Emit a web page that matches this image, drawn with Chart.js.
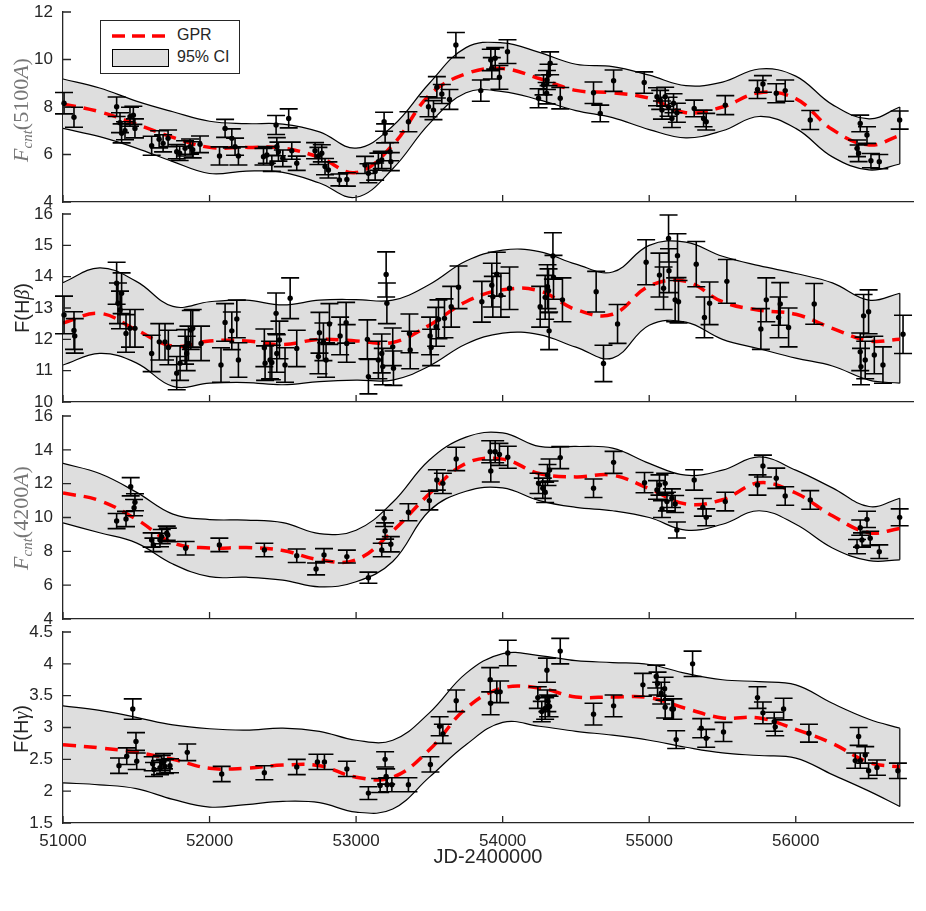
<!DOCTYPE html>
<html>
<head>
<meta charset="utf-8">
<title>GPR light curves</title>
<script src="https://cdn.jsdelivr.net/npm/chart.js@4.4.1/dist/chart.umd.min.js"></script>
<style>
  body { margin: 0; background: #fff; }
  #fig { position: relative; width: 926px; height: 911px; font-family: "Liberation Sans", Arial, sans-serif; color: #262626; }
  .panel { position: absolute; left: 0; width: 926px; }
  .ylab { position: absolute; white-space: nowrap; transform: translate(-50%, -50%) rotate(-90deg); }
  .tex { font-family: "Liberation Serif", "DejaVu Serif", serif; font-size: 22px; color: #777; }
  .tex i { font-style: italic; }
  .tex sub { font-size: 15px; font-style: italic; vertical-align: -4px; }
  .plain { font-size: 20px; color: #262626; }
  .plain i { font-family: "Liberation Serif", serif; font-style: italic; }
  #legend { position: absolute; left: 100px; top: 20px; width: 138px; height: 52px; border: 1px solid #262626; background: #fff; font-size: 16px; }
  #legend svg { position: absolute; left: 11px; top: 10px; }
  #legend .swatch { position: absolute; left: 11px; top: 28px; width: 55px; height: 16px; background: #dedede; border: 1px solid #000; }
  #legend .t1 { position: absolute; left: 76px; top: 5px; }
  #legend .t2 { position: absolute; left: 76px; top: 27px; }
</style>
</head>
<body>
<div id="fig">
  <div class="panel" style="top:1px;height:213px"><canvas id="p1"></canvas></div>
  <div class="panel" style="top:203px;height:211px"><canvas id="p2"></canvas></div>
  <div class="panel" style="top:405px;height:226px"><canvas id="p3"></canvas></div>
  <div class="panel" style="top:621px;height:262px"><canvas id="p4"></canvas></div>

  <div class="ylab tex" style="left:22px;top:110px"><i>F</i><sub>cnt</sub>(5100<i>A</i>)</div>
  <div class="ylab plain" style="left:22px;top:308px">F(H<i>β</i>)</div>
  <div class="ylab tex" style="left:22px;top:518px"><i>F</i><sub>cnt</sub>(4200<i>A</i>)</div>
  <div class="ylab plain" style="left:21px;top:729px">F(H<i>γ</i>)</div>

  <div id="legend">
    <svg width="58" height="10"><line x1="0" y1="5" x2="58" y2="5" stroke="#ff0000" stroke-width="3.5" stroke-dasharray="13 7"/></svg>
    <span class="t1">GPR</span>
    <div class="swatch"></div>
    <span class="t2">95% CI</span>
  </div>
</div>

<script>
// -------- Data --------
const xTicks = [51000, 52000, 53000, 54000, 55000, 56000];

// GPR model grid (JD-2400000)
const bandJd = [51000, 51250, 51500, 51750, 52000, 52250, 52500, 52750, 53000, 53250, 53500, 53750,
                54000, 54250, 54500, 54750, 55000, 55250, 55500, 55750, 56000, 56250, 56500, 56710];

// F_cnt(5100A)
const p1Gpr   = [8.13, 7.8, 7.28, 6.72, 6.3, 6.3, 6.27, 5.88, 5.24, 6.4, 8.5, 9.4, 9.62, 9.2, 8.7, 8.6, 8.37, 7.76, 8.0, 8.6, 8.35, 7.05, 6.4, 6.8];
const p1Upper = [9.18, 8.8, 8.25, 7.8, 7.4, 7.3, 7.28, 6.95, 6.27, 7.2, 9.0, 10.5, 10.7, 10.3, 9.8, 9.7, 9.34, 8.9, 9.05, 9.6, 9.3, 8.1, 7.5, 8.0];
const p1Lower = [7.1, 6.75, 6.27, 5.7, 5.2, 5.3, 5.25, 4.8, 4.2, 5.4, 7.3, 8.6, 8.65, 8.3, 7.85, 7.55, 7.05, 6.7, 7.0, 7.6, 7.1, 5.9, 5.35, 5.6];
const p1Jd   = [51007, 51075, 51366, 51389, 51400, 51423, 51457, 51480, 51491, 51605, 51656, 51683, 51717, 51776, 51796, 51833, 51867, 51885, 51935,
                52068, 52106, 52152, 52174, 52197, 52368, 52391, 52425, 52454, 52459, 52470, 52500, 52540, 52561, 52595, 52720, 52743, 52766, 52788, 52811, 52886, 52937,
                53061, 53084, 53130, 53152, 53175, 53191, 53198, 53232, 53237, 53357, 53494, 53528, 53551, 53585, 53637, 53681, 53851, 53919, 53926, 53949, 53978,
                54033, 54245, 54279, 54302, 54313, 54324, 54300, 54393, 54620, 54666, 54757, 54966,
                55053, 55075, 55087, 55109, 55132, 55155, 55166, 55189, 55307, 55371, 55389, 55519, 55739, 55776, 55867, 55928,
                56099, 56440, 56486, 56418, 56429, 56513, 56570, 56709];
const p1Flux = [8.16, 7.57, 8.01, 7.34, 6.89, 7.0, 7.59, 7.65, 7.1, 6.37, 6.64, 6.47, 6.68, 6.12, 6.05, 6.26, 6.33, 6.2, 6.43,
                5.94, 7.1, 6.68, 6.33, 5.94, 5.91, 5.98, 5.63, 7.24, 6.33, 6.12, 5.84, 7.52, 6.16, 5.63, 6.16, 5.94, 6.05, 5.49, 5.35, 4.93, 4.95,
                5.56, 5.21, 5.28, 5.7, 5.77, 7.38, 6.89, 6.12, 5.7, 7.38, 8.01, 7.87, 8.83, 8.55, 8.32, 10.61, 8.69, 9.98, 9.63, 10.05, 9.25,
                10.33, 8.37, 8.93, 9.14, 9.35, 9.84, 8.58, 8.37, 8.6, 7.73, 9.11, 9.03,
                8.43, 8.3, 7.87, 8.43, 8.01, 7.52, 8.16, 7.76, 7.94, 7.52, 7.38, 8.08, 8.74, 8.97, 8.58, 8.69,
                7.45, 7.31, 6.82, 6.26, 6.05, 5.74, 5.7, 7.45];
const p1Err  = [0.45, 0.42, 0.41, 0.42, 0.4, 0.38, 0.4, 0.38, 0.4, 0.4, 0.36, 0.36, 0.35, 0.3, 0.3, 0.32, 0.32, 0.34, 0.35,
                0.38, 0.38, 0.4, 0.36, 0.38, 0.35, 0.35, 0.34, 0.4, 0.38, 0.4, 0.35, 0.4, 0.36, 0.3, 0.34, 0.36, 0.36, 0.34, 0.34, 0.25, 0.28,
                0.36, 0.4, 0.36, 0.36, 0.36, 0.4, 0.4, 0.38, 0.38, 0.42, 0.42, 0.4, 0.45, 0.4, 0.42, 0.53, 0.45, 0.45, 0.45, 0.45, 0.5,
                0.5, 0.4, 0.42, 0.4, 0.45, 0.48, 0.45, 0.45, 0.45, 0.35, 0.45, 0.45,
                0.38, 0.4, 0.38, 0.4, 0.4, 0.38, 0.4, 0.4, 0.35, 0.35, 0.35, 0.4, 0.38, 0.35, 0.4, 0.45,
                0.4, 0.35, 0.35, 0.35, 0.35, 0.3, 0.3, 0.38];

// F(Hbeta)
const p2Gpr   = [12.52, 12.83, 12.3, 11.78, 11.95, 11.95, 11.83, 12.0, 11.95, 11.9, 12.45, 13.2, 13.58, 13.55, 12.95, 12.8, 13.7, 13.85, 13.2, 12.93, 12.8, 12.35, 11.95, 12.0];
const p2Upper = [13.81, 14.28, 13.85, 13.05, 13.2, 13.25, 13.1, 13.25, 13.27, 13.25, 13.75, 14.5, 14.85, 14.8, 14.4, 14.15, 15.0, 15.1, 14.65, 14.35, 14.1, 13.8, 13.25, 13.47];
const p2Lower = [11.18, 11.55, 11.25, 10.5, 10.6, 10.62, 10.55, 10.65, 10.7, 10.7, 11.15, 11.85, 12.2, 12.15, 11.75, 11.4, 12.45, 12.55, 12.0, 11.7, 11.4, 11.15, 10.7, 10.6];
const p2Jd   = [51007, 51075, 51080, 51366, 51375, 51389, 51400, 51430, 51457, 51491, 51605, 51657, 51696, 51719, 51776, 51799, 51833, 51844, 51856, 51872, 51885, 51942,
                52078, 52106, 52152, 52186, 52197, 52374, 52379, 52413, 52425, 52454, 52459, 52477, 52515, 52550, 52595, 52743, 52750, 52777, 52795, 52818, 52891, 52932, 52936,
                53077, 53084, 53152, 53175, 53182, 53205, 53210, 53250, 53255, 53364, 53369, 53505, 53512, 53546, 53562, 53603, 53649, 53699, 53858, 53926, 53933, 53960, 53988,
                54047, 54256, 54290, 54306, 54313, 54317, 54343, 54347, 54408, 54638, 54688, 54784, 54979,
                55070, 55098, 55132, 55135, 55177, 55193, 55200, 55321, 55377, 55412, 55530, 55762, 55799, 55883, 55894, 55951,
                56126, 56463, 56497, 56440, 56445, 56474, 56536, 56595, 56732];
const p2Flux = [12.78, 12.28, 12.11, 13.79, 13.15, 12.94, 13.47, 12.19, 12.35, 12.35, 11.55, 11.92, 11.92, 11.74, 10.92, 11.24, 11.76, 11.55, 11.87, 12.3, 12.35, 11.87,
                11.18, 12.54, 12.27, 12.65, 11.34, 11.73, 11.24, 11.34, 11.26, 12.83, 11.55, 11.98, 11.18, 13.31, 11.71, 11.45, 12.21, 11.92, 11.34, 12.49, 12.11, 12.53, 11.87,
                12.0, 10.81, 11.34, 11.55, 11.13, 14.07, 13.15, 11.76, 11.08, 12.19, 11.66, 12.11, 11.74, 12.4, 12.64, 12.67, 13.04, 13.66, 13.2, 13.73, 13.36, 14.08, 13.41,
                13.63, 13.04, 13.34, 13.68, 13.55, 12.27, 14.66, 13.98, 13.26, 13.52, 11.23, 12.49, 14.46,
                14.05, 13.63, 15.22, 14.19, 13.26, 14.67, 13.2, 14.4, 12.7, 13.15, 13.85, 12.33, 13.26, 12.7, 13.13, 12.38,
                13.13, 12.75, 12.88, 11.6, 11.13, 11.34, 11.5, 11.18, 12.16];
const p2Err  = [0.6, 0.6, 0.55, 0.67, 0.65, 0.6, 0.65, 0.6, 0.6, 0.6, 0.58, 0.58, 0.58, 0.55, 0.53, 0.55, 0.55, 0.55, 0.55, 0.62, 0.6, 0.55,
                0.55, 0.6, 0.6, 0.6, 0.55, 0.6, 0.55, 0.6, 0.55, 0.65, 0.6, 0.6, 0.55, 0.65, 0.58, 0.55, 0.65, 0.6, 0.55, 0.65, 0.6, 0.65, 0.6,
                0.62, 0.55, 0.6, 0.62, 0.58, 0.72, 0.65, 0.6, 0.55, 0.62, 0.6, 0.6, 0.58, 0.62, 0.62, 0.62, 0.65, 0.68, 0.65, 0.7, 0.65, 0.7, 0.7,
                0.68, 0.65, 0.7, 0.7, 0.7, 0.6, 0.74, 0.7, 0.7, 0.65, 0.58, 0.62, 0.72,
                0.7, 0.68, 0.75, 0.7, 0.7, 0.7, 0.68, 0.72, 0.65, 0.68, 0.7, 0.65, 0.7, 0.65, 0.68, 0.62,
                0.65, 0.68, 0.7, 0.6, 0.58, 0.6, 0.6, 0.58, 0.61];

// F_cnt(4200A)
const p3Gpr   = [11.45, 11.0, 9.9, 8.5, 8.2, 8.22, 8.05, 7.5, 7.5, 9.2, 11.4, 13.2, 13.45, 12.6, 12.4, 12.5, 11.7, 10.8, 11.05, 12.05, 11.45, 10.1, 9.1, 9.35];
const p3Upper = [13.2, 12.6, 11.5, 10.2, 9.88, 9.85, 9.7, 9.05, 9.25, 10.9, 13.4, 14.75, 15.0, 14.2, 14.2, 14.1, 13.2, 12.5, 12.8, 13.58, 12.8, 11.75, 10.65, 11.14];
const p3Lower = [9.68, 9.1, 8.5, 7.25, 6.5, 6.47, 6.3, 5.9, 6.2, 7.4, 10.4, 11.55, 11.75, 11.0, 10.6, 10.4, 10.0, 9.25, 9.6, 10.4, 9.6, 8.2, 7.45, 7.5];
const p3Jd   = [51366, 51430, 51462, 51485, 51491, 51605, 51617, 51662, 51674, 51708, 51715, 51837, 52067, 52374, 52595, 52727, 52781, 52937,
                53084, 53175, 53191, 53198, 53237, 53357, 53500, 53551, 53592, 53683, 53915, 53919, 53949, 53978,
                54035, 54245, 54274, 54290, 54306, 54320, 54393, 54620, 54757, 54968,
                55053, 55070, 55087, 55109, 55121, 55155, 55177, 55189, 55307, 55366, 55389, 55519, 55739, 55776, 55867, 55928,
                56099, 56418, 56440, 56452, 56486, 56508, 56570, 56709];
const p3Flux = [9.79, 9.91, 11.82, 10.58, 10.9, 8.67, 8.38, 8.67, 8.87, 9.07, 8.97, 8.18, 8.38, 8.08, 7.74, 6.96, 7.78, 7.69,
                6.44, 8.08, 9.95, 9.2, 8.42, 10.31, 11.0, 12.22, 12.02, 13.46, 13.89, 12.75, 13.89, 13.73,
                13.56, 12.02, 11.73, 11.49, 12.51, 12.81, 13.54, 11.73, 13.26, 12.06,
                11.63, 11.92, 10.5, 12.02, 10.94, 11.14, 10.8, 9.26, 12.22, 10.6, 10.01, 10.94, 11.92, 13.04, 12.32, 11.27,
                11.04, 8.28, 9.4, 8.67, 9.89, 8.77, 7.98, 10.01];
const p3Err  = [0.45, 0.45, 0.54, 0.48, 0.5, 0.42, 0.4, 0.4, 0.42, 0.42, 0.4, 0.4, 0.4, 0.4, 0.4, 0.35, 0.38, 0.38,
                0.33, 0.4, 0.48, 0.48, 0.45, 0.5, 0.55, 0.6, 0.6, 0.69, 0.65, 0.65, 0.65, 0.65,
                0.65, 0.6, 0.6, 0.6, 0.62, 0.65, 0.65, 0.55, 0.65, 0.6,
                0.55, 0.6, 0.5, 0.6, 0.55, 0.55, 0.5, 0.47, 0.6, 0.52, 0.5, 0.55, 0.6, 0.65, 0.6, 0.55,
                0.55, 0.42, 0.45, 0.42, 0.48, 0.42, 0.4, 0.5];

// F(Hgamma)
const p4Gpr   = [2.73, 2.68, 2.61, 2.5, 2.36, 2.36, 2.41, 2.4, 2.22, 2.22, 2.65, 3.3, 3.62, 3.62, 3.48, 3.48, 3.47, 3.3, 3.15, 3.15, 2.97, 2.75, 2.45, 2.38];
const p4Upper = [3.34, 3.27, 3.16, 3.04, 2.98, 2.96, 2.99, 2.94, 2.8, 2.8, 3.23, 3.85, 4.16, 4.13, 4.05, 4.02, 3.99, 3.85, 3.75, 3.72, 3.67, 3.38, 3.13, 2.99];
const p4Lower = [2.13, 2.1, 2.04, 1.87, 1.75, 1.79, 1.84, 1.82, 1.67, 1.72, 2.22, 2.73, 3.08, 3.02, 2.94, 2.88, 2.8, 2.69, 2.6, 2.56, 2.52, 2.26, 2.0, 1.76];
const p4Jd   = [51382, 51435, 51476, 51498, 51503, 51612, 51621, 51662, 51674, 51689, 51696, 51730, 51848, 52083, 52374, 52595, 52736, 52784, 52937,
                53084, 53164, 53198, 53205, 53212, 53244, 53357, 53507, 53570, 53592, 53683, 53915, 53918, 53960, 53983,
                54035, 54240, 54267, 54290, 54302, 54305, 54310, 54320, 54393, 54620, 54757, 54957,
                55048, 55057, 55082, 55105, 55109, 55155, 55165, 55184, 55296, 55355, 55389, 55507, 55739, 55776, 55853, 55860, 55917,
                56090, 56429, 56406, 56440, 56474, 56497, 56554, 56697];
const p4Flux = [2.4, 2.55, 3.29, 2.78, 2.47, 2.43, 2.34, 2.37, 2.44, 2.47, 2.39, 2.4, 2.61, 2.27, 2.29, 2.38, 2.46, 2.46, 2.35,
                1.97, 2.09, 2.5, 2.23, 2.1, 2.1, 2.1, 2.42, 3.02, 2.9, 3.42, 3.75, 3.38, 3.56, 3.56,
                4.17, 3.47, 3.25, 3.3, 3.9, 3.42, 3.34, 3.33, 4.2, 3.21, 3.34, 3.67,
                3.8, 3.69, 3.54, 3.61, 3.32, 3.29, 3.29, 2.81, 4.0, 2.99, 2.83, 2.93, 3.47, 3.23, 3.09, 3.01, 3.29,
                2.91, 2.86, 2.48, 2.48, 2.57, 2.32, 2.37, 2.32];
const p4Err  = [0.12, 0.13, 0.16, 0.14, 0.13, 0.11, 0.11, 0.11, 0.12, 0.12, 0.11, 0.11, 0.13, 0.12, 0.11, 0.12, 0.12, 0.12, 0.12,
                0.1, 0.11, 0.12, 0.12, 0.11, 0.11, 0.11, 0.12, 0.15, 0.15, 0.17, 0.19, 0.18, 0.17, 0.17,
                0.2, 0.17, 0.16, 0.17, 0.19, 0.17, 0.17, 0.16, 0.2, 0.17, 0.17, 0.18,
                0.18, 0.18, 0.17, 0.18, 0.17, 0.16, 0.16, 0.14, 0.2, 0.15, 0.14, 0.15, 0.17, 0.17, 0.15, 0.14, 0.17,
                0.14, 0.14, 0.12, 0.12, 0.13, 0.12, 0.12, 0.12];

// -------- Look --------
const AXIS_COLOR = '#262626';
const BAND_FILL = '#dedede';
const CAP = 9;

Chart.defaults.font.family = '"Liberation Sans", Arial, sans-serif';
Chart.defaults.color = AXIS_COLOR;

// inward tick marks like the original figure
const innerTicks = {
  id: 'innerTicks',
  afterDraw(chart) {
    const ctx = chart.ctx, area = chart.chartArea;
    const xs = chart.scales.x, ys = chart.scales.y;
    ctx.save();
    ctx.strokeStyle = AXIS_COLOR;
    ctx.lineWidth = 1.3;
    ctx.beginPath();
    xs.ticks.forEach(t => {
      const px = xs.getPixelForValue(t.value);
      ctx.moveTo(px, area.bottom);
      ctx.lineTo(px, area.bottom - 7);
    });
    ys.ticks.forEach(t => {
      const py = ys.getPixelForValue(t.value);
      ctx.moveTo(area.left, py);
      ctx.lineTo(area.left + 8, py);
    });
    ctx.stroke();
    ctx.restore();
  }
};

// vertical error bars with caps
const errorBars = {
  id: 'errorBars',
  afterDatasetsDraw(chart) {
    const ctx = chart.ctx, ys = chart.scales.y;
    chart.data.datasets.forEach((ds, i) => {
      if (!ds.errorBars) return;
      const meta = chart.getDatasetMeta(i);
      ctx.save();
      ctx.strokeStyle = '#000';
      ctx.lineWidth = 1.6;
      ctx.beginPath();
      meta.data.forEach((pt, j) => {
        const v = ds.data[j].y, e = ds.errorBars[j];
        const top = ys.getPixelForValue(v + e), bot = ys.getPixelForValue(v - e);
        ctx.moveTo(pt.x, top); ctx.lineTo(pt.x, bot);
        ctx.moveTo(pt.x - CAP, top); ctx.lineTo(pt.x + CAP, top);
        ctx.moveTo(pt.x - CAP, bot); ctx.lineTo(pt.x + CAP, bot);
      });
      ctx.stroke();
      ctx.fillStyle = '#000';
      meta.data.forEach(pt => {
        ctx.beginPath();
        ctx.arc(pt.x, pt.y, 2.7, 0, Math.PI * 2);
        ctx.fill();
      });
      ctx.restore();
    });
  }
};

function pts(xs, ys) {
  return xs.map((x, i) => ({ x: x, y: ys[i] }));
}

// keep the plot area exactly where the layout puts it
function noPad(s) {
  s.paddingTop = 0; s.paddingBottom = 0; s.paddingLeft = 0; s.paddingRight = 0;
}

// -------- One panel per quantity --------
function makePanel(canvasId, p) {
  const last = bandJd.length - 1;
  return new Chart(document.getElementById(canvasId), {
    type: 'line',
    data: {
      datasets: [
        { data: pts(bandJd, p.upper), borderColor: '#000', borderWidth: 1.2, pointRadius: 0, tension: 0.4, fill: false, order: 4 },
        { data: pts(bandJd, p.lower), borderColor: '#000', borderWidth: 1.2, pointRadius: 0, tension: 0.4, fill: '-1', backgroundColor: BAND_FILL, order: 3 },
        { data: [{ x: bandJd[last], y: p.upper[last] }, { x: bandJd[last], y: p.lower[last] }],
          borderColor: '#000', borderWidth: 1.2, pointRadius: 0, tension: 0, order: 2 },
        { data: pts(bandJd, p.gpr), borderColor: '#ff0000', borderWidth: 3.5, borderDash: [13, 8], pointRadius: 0, tension: 0.4, order: 1 },
        { data: pts(p.jd, p.flux), errorBars: p.err, showLine: false, pointRadius: 0, order: 0 }
      ]
    },
    options: {
      animation: false,
      responsive: true,
      maintainAspectRatio: false,
      events: [],
      layout: { padding: { top: 11, right: 13, left: 0, bottom: 0 } },
      plugins: { legend: { display: false }, tooltip: { enabled: false }, filler: { drawTime: 'beforeDatasetsDraw' } },
      scales: {
        x: {
          type: 'linear', min: 51000, max: 56800,
          afterBuildTicks: s => { s.ticks = xTicks.map(v => ({ value: v })); },
          afterFit: s => { s.height = p.xAxisH; noPad(s); },
          grid: { display: false, drawTicks: false },
          border: { display: true, color: AXIS_COLOR, width: 1.3 },
          ticks: { display: p.showX, padding: 8, font: { size: 17 }, color: AXIS_COLOR, maxRotation: 0, callback: v => String(v) },
          title: { display: p.showX, text: 'JD-2400000', font: { size: 20 }, color: AXIS_COLOR, padding: { top: 0, bottom: 14 } }
        },
        y: {
          min: p.yMin, max: p.yMax,
          afterFit: s => { s.width = 63; noPad(s); },
          grid: { display: false, drawTicks: false },
          border: { display: true, color: AXIS_COLOR, width: 1.3 },
          ticks: { stepSize: p.yStep, padding: 10, font: { size: 17 }, color: AXIS_COLOR, callback: v => String(v) }
        }
      }
    },
    plugins: [innerTicks, errorBars]
  });
}

makePanel('p1', { gpr: p1Gpr, upper: p1Upper, lower: p1Lower, jd: p1Jd, flux: p1Flux, err: p1Err, yMin: 4, yMax: 12, yStep: 2, xAxisH: 12, showX: false });
makePanel('p2', { gpr: p2Gpr, upper: p2Upper, lower: p2Lower, jd: p2Jd, flux: p2Flux, err: p2Err, yMin: 10, yMax: 16, yStep: 1, xAxisH: 12, showX: false });
makePanel('p3', { gpr: p3Gpr, upper: p3Upper, lower: p3Lower, jd: p3Jd, flux: p3Flux, err: p3Err, yMin: 4, yMax: 16, yStep: 2, xAxisH: 12, showX: false });
makePanel('p4', { gpr: p4Gpr, upper: p4Upper, lower: p4Lower, jd: p4Jd, flux: p4Flux, err: p4Err, yMin: 1.5, yMax: 4.5, yStep: 0.5, xAxisH: 60, showX: true });
</script>
</body>
</html>
